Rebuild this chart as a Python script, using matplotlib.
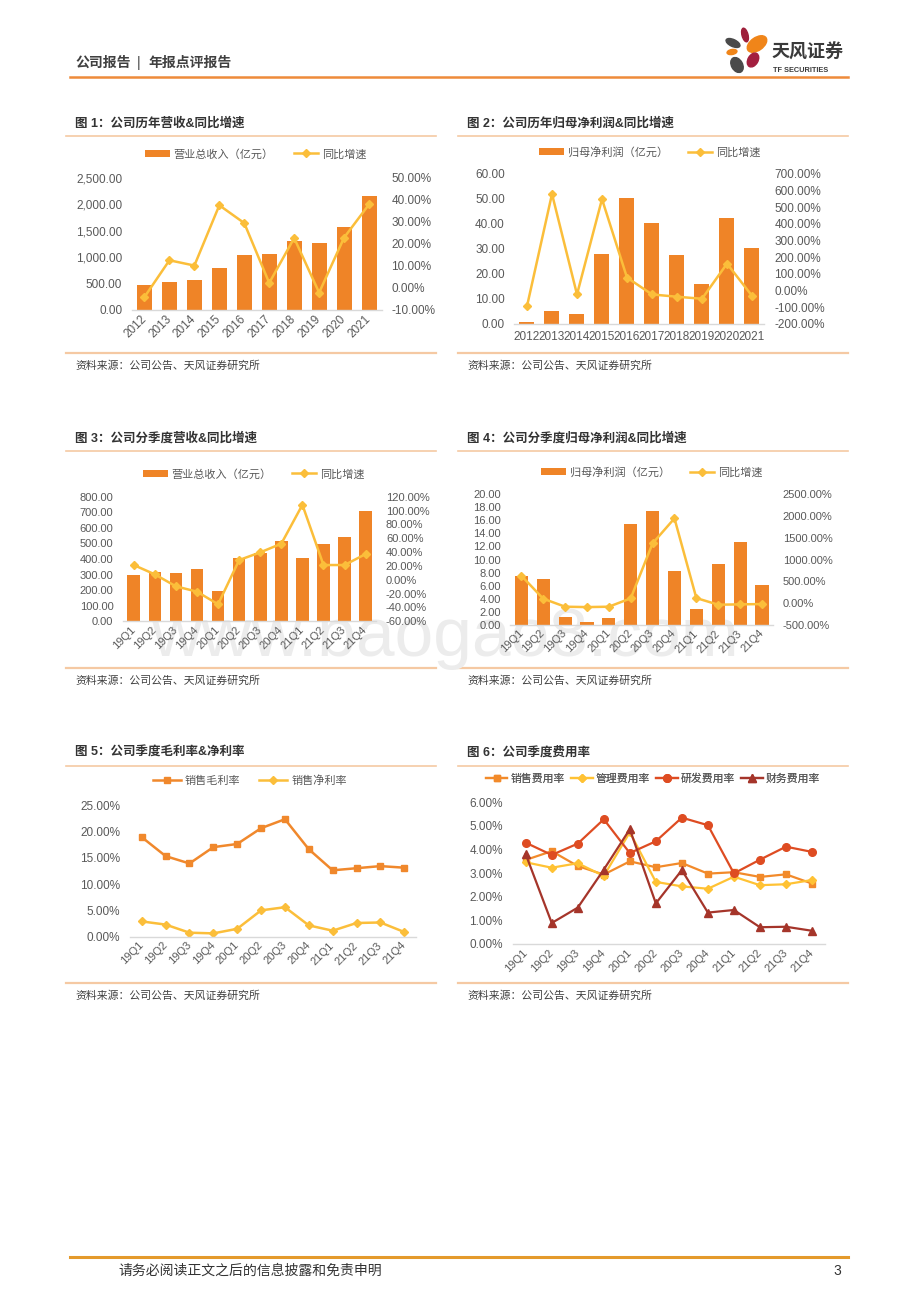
import matplotlib
matplotlib.use('Agg')
import matplotlib.pyplot as plt
from matplotlib.patches import Ellipse
from matplotlib.ticker import FuncFormatter
import numpy as np

plt.rcParams['font.family'] = ['Liberation Sans', 'Noto Sans CJK SC']
plt.rcParams['axes.unicode_minus'] = False

# ---- data ----
years = ['2012', '2013', '2014', '2015', '2016', '2017', '2018', '2019', '2020', '2021']
quarters = ['19Q1', '19Q2', '19Q3', '19Q4', '20Q1', '20Q2', '20Q3', '20Q4',
            '21Q1', '21Q2', '21Q3', '21Q4']

revenue = [470, 530, 575, 795, 1035, 1060, 1300, 1275, 1565, 2165]
revenue_yoy = [-4.1, 12.6, 10.2, 37.6, 29.5, 2.3, 22.7, -2.1, 22.9, 38.0]

profit = [0.6, 5.2, 4.0, 27.9, 50.2, 40.3, 27.7, 15.8, 42.2, 30.2]
profit_yoy = [-95, 580, -24, 549, 77, -24, -38, -50, 161, -32]

q_revenue = [297, 317, 312, 336, 197, 404, 441, 513, 409, 498, 541, 706]
q_revenue_yoy = [21.3, 7.8, -9.5, -17.2, -35.4, 28.5, 39.6, 52.1, 108.3, 21.3, 21.3, 37.2]

q_profit = [7.52, 7.06, 1.18, 0.36, 1.07, 15.45, 17.5, 8.18, 2.35, 9.31, 12.68, 6.04]
q_profit_yoy = [627, 98, -86, -95, -86, 106, 1371, 1946, 113, -40, -32, -25]

gross_margin = [18.9, 15.3, 13.9, 17.0, 17.6, 20.6, 22.3, 16.6, 12.6, 13.0, 13.4, 13.1]
net_margin = [2.9, 2.3, 0.76, 0.63, 1.5, 5.0, 5.6, 2.15, 1.14, 2.6, 2.7, 0.89]

sales_rate = [3.56, 3.93, 3.30, 2.94, 3.50, 3.25, 3.43, 2.98, 3.04, 2.84, 2.95, 2.56]
admin_rate = [3.46, 3.23, 3.42, 2.88, 4.73, 2.63, 2.44, 2.34, 2.85, 2.49, 2.53, 2.71]
rd_rate = [4.29, 3.77, 4.25, 5.28, 3.85, 4.35, 5.35, 5.03, 2.99, 3.57, 4.12, 3.90]
fin_rate = [3.80, 0.89, 1.54, 3.15, 4.86, 1.72, 3.13, 1.33, 1.44, 0.71, 0.73, 0.56]

# ---- style ----
W, H = 920, 1302
BAR = '#EF8427'
GOLD = '#FBBE3A'
GRAY = '#595959'
PEACH = '#F5C9A3'

fig = plt.figure(figsize=(W / 100, H / 100), dpi=100)
fig.patch.set_facecolor('white')

# background axes in pixel coordinates for page decoration
bg = fig.add_axes([0, 0, 1, 1], zorder=-1)
bg.set_xlim(0, W)
bg.set_ylim(H, 0)
bg.axis('off')
bg.set_facecolor('none')


def rect(x0, y0, x1, y1):
    return [x0 / W, 1 - y1 / H, (x1 - x0) / W, (y1 - y0) / H]


def clean(ax, fs, bottom=True):
    for s in ax.spines.values():
        s.set_visible(False)
    if bottom:
        ax.spines['bottom'].set_visible(True)
        ax.spines['bottom'].set_color('#D9D9D9')
        ax.spines['bottom'].set_linewidth(1.0)
    ax.tick_params(length=0, labelsize=fs, colors=GRAY, pad=7)
    ax.set_facecolor('none')


def xlabels(ax, cats, rot, fs):
    ax.set_xticks(np.arange(len(cats)))
    if rot:
        ax.set_xticklabels(cats, rotation=45, ha='right', va='center',
                           rotation_mode='anchor', fontsize=fs, color=GRAY)
        ax.tick_params(axis='x', pad=5)
    else:
        ax.set_xticklabels(cats, fontsize=fs, color=GRAY)
        ax.tick_params(axis='x', pad=5)


def bar_line(pos, cats, bars, line, lim_l, step_l, fmt_l, lim_r, step_r, rot, fs):
    ax = fig.add_axes(rect(*pos))
    x = np.arange(len(cats))
    b = ax.bar(x, bars, width=0.6, color=BAR, zorder=2)
    ax.set_xlim(-0.5, len(cats) - 0.5)
    ax.set_ylim(*lim_l)
    ax.set_yticks(np.arange(lim_l[0], lim_l[1] + step_l / 2, step_l))
    ax.yaxis.set_major_formatter(FuncFormatter(fmt_l))
    clean(ax, fs)
    xlabels(ax, cats, rot, fs)
    ax2 = ax.twinx()
    ln, = ax2.plot(x, line, color=GOLD, lw=1.8, marker='D', ms=4.5, zorder=3)
    ax2.set_ylim(*lim_r)
    ax2.set_yticks(np.arange(lim_r[0], lim_r[1] + step_r / 2, step_r))
    ax2.yaxis.set_major_formatter(FuncFormatter(lambda v, p: '%.2f%%' % v))
    clean(ax2, fs, bottom=False)
    return b, ln


def legend(handles, labels, cx, cy, ncol, hl=2.2, cs=1.8, tp=0.35, fs=8):
    leg = bg.legend(handles, labels, loc='center', bbox_to_anchor=(cx, cy),
                    bbox_transform=bg.transData, ncol=ncol, frameon=False,
                    fontsize=fs, handlelength=hl, handletextpad=tp,
                    columnspacing=cs, labelcolor=GRAY)
    bg.add_artist(leg)


def panel(x0, x1, y_title, title):
    bg.text(x0 + 9, y_title, title, fontsize=9, fontweight='bold',
            color='#333333', va='center', ha='left')
    bg.plot([x0, x1], [y_title + 13, y_title + 13], color=PEACH, lw=1.2)
    bg.plot([x0, x1], [y_title + 230, y_title + 230], color=PEACH, lw=1.6)
    bg.text(x0 + 9, y_title + 243, '资料来源：公司公告、天风证券研究所',
            fontsize=7.8, color='#404040', va='center', ha='left')


# ---- header / footer ----
bg.text(75, 63, '公司报告', fontsize=10, fontweight='bold', color='#404040', va='center')
bg.text(139, 63, '|', fontsize=10, color='#404040', va='center', ha='center')
bg.text(148, 63, '年报点评报告', fontsize=10, fontweight='bold', color='#404040', va='center')
bg.plot([70, 848], [77, 77], color='#EE8B3A', lw=1.8)

for (cx, cy, w, h, ang, c) in [(745, 35, 6, 14, -15, '#9E1F3A'),
                               (733, 43, 15, 7, 25, '#4A4A4A'),
                               (757, 44, 22, 13, -35, '#F08519'),
                               (732, 52, 10, 5, -10, '#F08519'),
                               (753, 60, 10, 15, 30, '#A31F3F'),
                               (737, 65, 11, 16, -30, '#4A4A4A')]:
    bg.add_patch(Ellipse((cx, cy), w, h, angle=ang, color=c))
bg.text(772, 53, '天风证券', fontsize=13, fontweight='bold', color='#3A3A3A', va='center')
bg.text(773, 71, 'TF SECURITIES', fontsize=5.3, fontweight='bold', color='#3A3A3A', va='center')

bg.plot([70, 848], [1257, 1257], color='#E49A2C', lw=2.2)
bg.text(118, 1271, '请务必阅读正文之后的信息披露和免责申明', fontsize=10, color='#333333', va='center')
bg.text(841, 1271, '3', fontsize=10, color='#333333', va='center', ha='right')

# watermark
bg.text(445, 656, 'www.baogao8.com', fontsize=50, color='#ECECEC', ha='center', va='baseline')

# ---- panels ----
panel(66, 436, 123, '图 1：公司历年营收&同比增速')
panel(458, 848, 123, '图 2：公司历年归母净利润&同比增速')
panel(66, 436, 438, '图 3：公司分季度营收&同比增速')
panel(458, 848, 438, '图 4：公司分季度归母净利润&同比增速')
panel(66, 436, 753, '图 5：公司季度毛利率&净利率')
panel(458, 848, 753, '图 6：公司季度费用率')

# Chart 1
b, ln = bar_line((132, 178, 381.5, 310), years, revenue, revenue_yoy,
                 (0, 2500), 500, lambda v, p: '{:,.2f}'.format(v),
                 (-10, 50), 10, True, 8.5)
legend([b, ln], ['营业总收入（亿元）', '同比增速'], 256, 154, 2)

# Chart 2
b, ln = bar_line((514.5, 174, 764.5, 323.7), years, profit, profit_yoy,
                 (0, 60), 10, lambda v, p: '%.2f' % v,
                 (-200, 700), 100, False, 8.5)
legend([b, ln], ['归母净利润（亿元）', '同比增速'], 650, 152, 2)

# Chart 3
b, ln = bar_line((123.2, 496.7, 376.2, 621.3), quarters, q_revenue, q_revenue_yoy,
                 (0, 800), 100, lambda v, p: '%.2f' % v,
                 (-60, 120), 20, True, 8)
legend([b, ln], ['营业总收入（亿元）', '同比增速'], 254, 474, 2)

# Chart 4
b, ln = bar_line((510.4, 494.3, 772.9, 624.7), quarters, q_profit, q_profit_yoy,
                 (0, 20), 2, lambda v, p: '%.2f' % v,
                 (-500, 2500), 500, True, 8)
legend([b, ln], ['归母净利润（亿元）', '同比增速'], 652, 472, 2)

# Chart 5
ax5 = fig.add_axes(rect(129.8, 805, 416.2, 936.7))
x = np.arange(len(quarters))
l1, = ax5.plot(x, gross_margin, color='#F0882C', lw=1.8, marker='s', ms=5)
l2, = ax5.plot(x, net_margin, color=GOLD, lw=1.8, marker='D', ms=4.5)
ax5.set_xlim(-0.5, len(quarters) - 0.5)
ax5.set_ylim(0, 25)
ax5.set_yticks(np.arange(0, 26, 5))
ax5.yaxis.set_major_formatter(FuncFormatter(lambda v, p: '%.2f%%' % v))
clean(ax5, 8.5)
xlabels(ax5, quarters, True, 8)
legend([l1, l2], ['销售毛利率', '销售净利率'], 250, 781, 2, hl=2.5, cs=1.7)

# Chart 6
ax6 = fig.add_axes(rect(512.7, 802.3, 825, 944))
s1, = ax6.plot(x, sales_rate, color='#F28A2A', lw=1.6, marker='s', ms=5)
s2, = ax6.plot(x, admin_rate, color='#FFC234', lw=1.6, marker='D', ms=4.5)
s3, = ax6.plot(x, rd_rate, color='#DE4C22', lw=1.6, marker='o', ms=5.5)
s4, = ax6.plot(x, fin_rate, color='#A5352A', lw=1.6, marker='^', ms=6)
ax6.set_xlim(-0.5, len(quarters) - 0.5)
ax6.set_ylim(0, 6)
ax6.set_yticks(np.arange(0, 6.5, 1))
ax6.yaxis.set_major_formatter(FuncFormatter(lambda v, p: '%.2f%%' % v))
clean(ax6, 8.5)
xlabels(ax6, quarters, True, 8)
legend([s1, s2, s3, s4], ['销售费用率', '管理费用率', '研发费用率', '财务费用率'],
       653, 779, 4, hl=2.0, cs=0.6, tp=0.25, fs=7.8)

fig.savefig('out.png', dpi=100, facecolor='white')
